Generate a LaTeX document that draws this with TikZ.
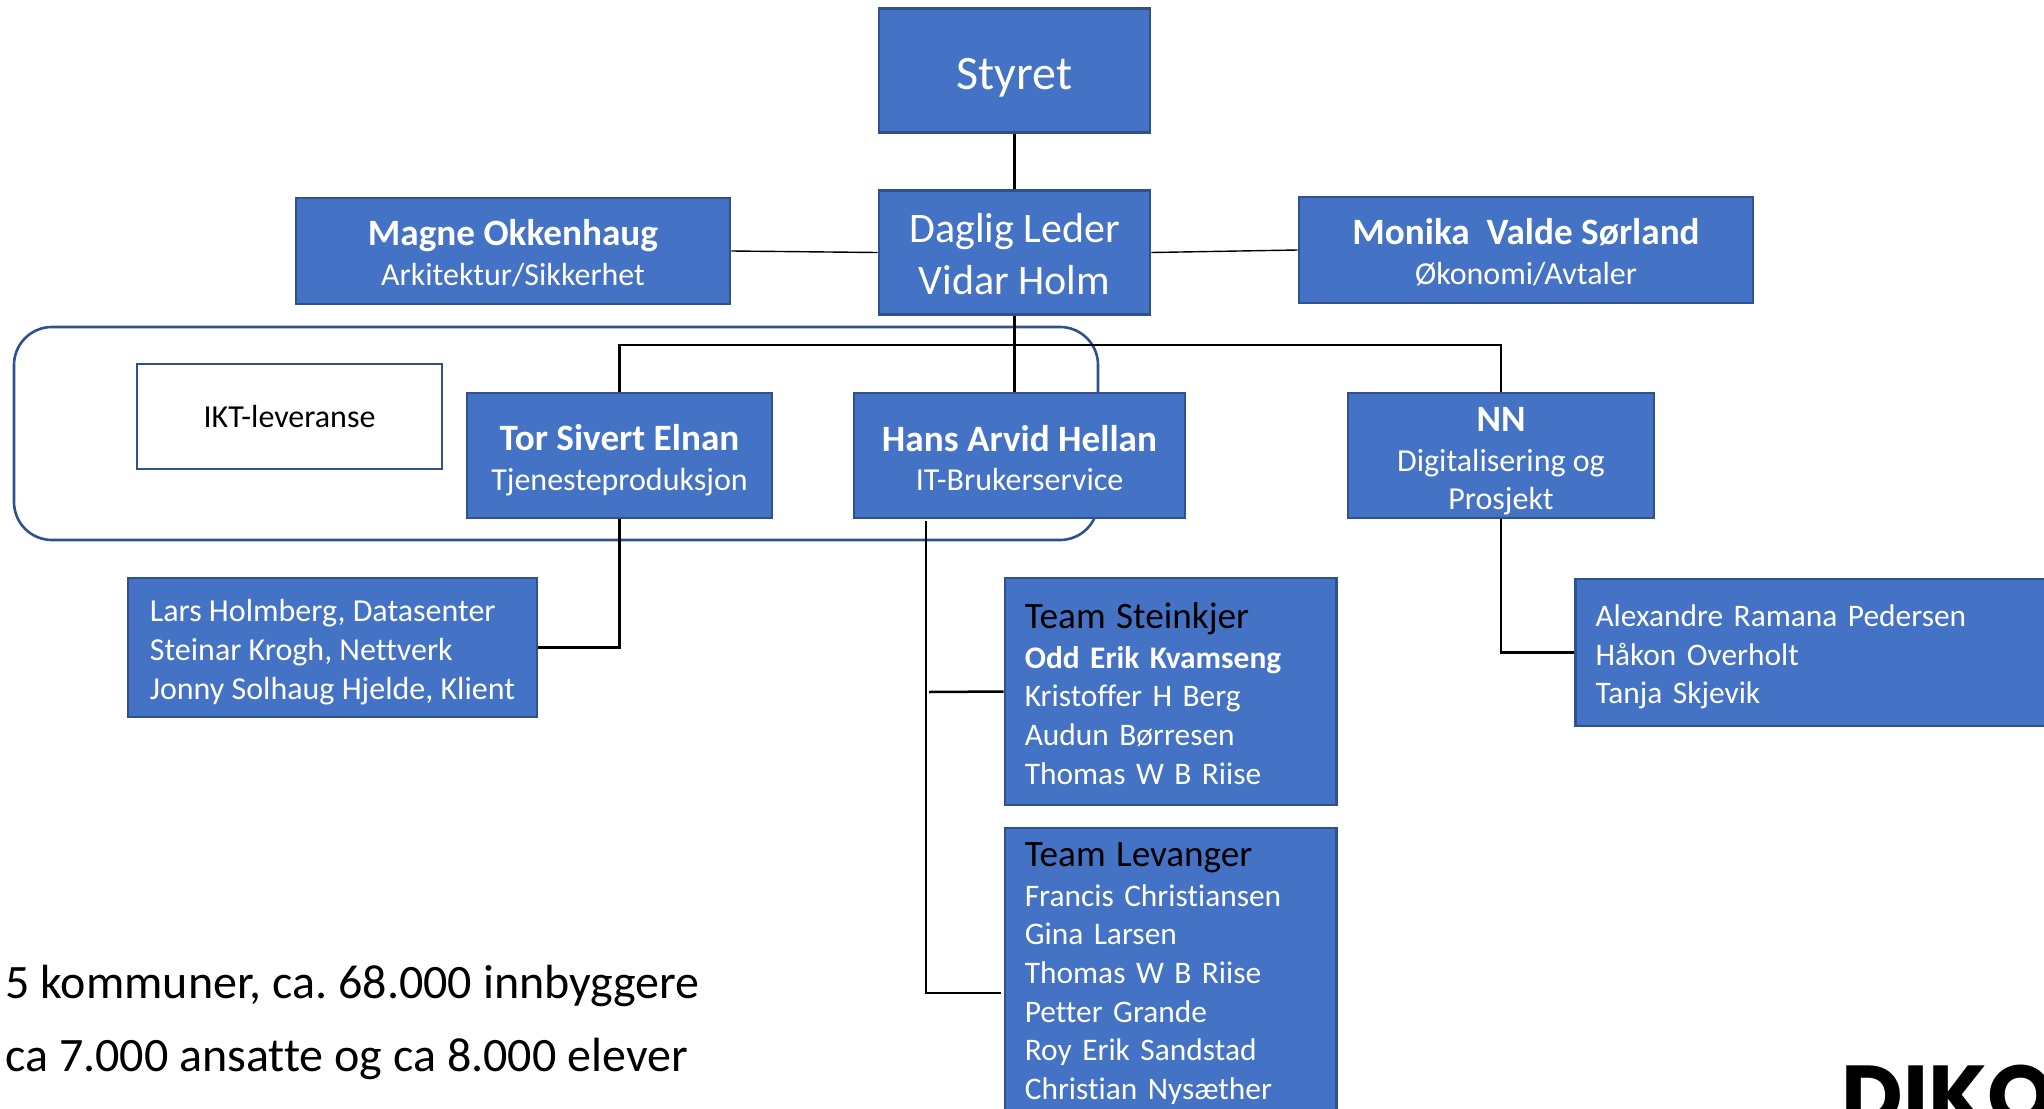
\documentclass[tikz,border=0pt]{standalone}
\usepackage{fontspec}
\setmainfont{Carlito}[Ligatures=NoCommon]
\newfontfamily\logofont{Poppins}
\usepackage{xcolor}
\definecolor{OrgBlue}{HTML}{4472C4}
\definecolor{OrgEdge}{HTML}{2F528F}
\newcommand{\fs}[1]{\fontsize{#1}{19.3}\selectfont}
\newcommand{\drop}[1]{\rule{0pt}{#1pt}}
\frenchspacing
\tikzset{
	orgbox/.style={draw=OrgEdge, fill=OrgBlue, line width=1.3, text=white, align=center, inner sep=0, font=\fs{16}},
	listbox/.style={orgbox, align=left, inner xsep=10, font=\fs{15.7}},
	orgline/.style={black, line width=1.25},
	thinline/.style={black, line width=0.7}
}

\begin{document}
\begin{tikzpicture}[x=0.5pt, y=-0.5pt]
		\clip (0,0) rectangle (2044,1108);
		
		% Frame
		\node[draw=OrgEdge, line width=1.3, rounded corners=19, minimum width=542, minimum height=106.5, inner sep=0] (frame) at (556,433.5) {};
		
		% Anchor points
		\coordinate (bar) at (1014,345);
		\coordinate (stem) at (926,521);
		\coordinate (branch) at (929,692);
		\coordinate (levpoint) at (1001,993);
		
		% Boxes
		\node[orgbox, minimum width=135.5, minimum height=62, font=\fs{24}] (styret) at (1014.5,70.5) {\drop{22.5}Styret};
		\node[orgbox, minimum width=135.5, minimum height=62, font=\fontsize{21}{26}\selectfont] (daglig) at (1014.5,252.5) {\drop{16}Daglig Leder\\Vidar Holm};
		\node[orgbox, minimum width=217, minimum height=53] (magne) at (513,251) {{\fs{18.6}\bfseries\drop{15}Magne Okkenhaug}\\[0.5pt]Arkitektur/Sikkerhet};
		\node[orgbox, minimum width=227, minimum height=53] (monika) at (1526,250) {{\fs{18.6}\bfseries\drop{15}Monika\ \ Valde Sørland}\\[0.5pt]Økonomi/Avtaler};
		\node[orgbox, fill=white, text=black, minimum width=152.5, minimum height=52.5] (ikt) at (289.5,416.5) {IKT-leveranse};
		\node[orgbox, minimum width=152.5, minimum height=62.5] (tor) at (619.5,455.5) {{\fs{18.6}\bfseries\drop{17.6}Tor Sivert Elnan}\\[0.5pt]Tjenesteproduksjon};
		\node[orgbox, minimum width=165.5, minimum height=62.5] (hans) at (1019.5,455.5) {{\fs{18.6}\bfseries\drop{15.5}Hans Arvid Hellan}\\[0.5pt]IT-Brukerservice};
		\node[orgbox, minimum width=153, minimum height=62.5] (nn) at (1501,455.5) {{\fs{18.6}\bfseries\drop{17.8}NN}\\[0.5pt]Digitalisering og\\Prosjekt};
		\node[listbox, font=\fs{16}, inner xsep=0, minimum width=204.5, minimum height=69.5] (lars) at (332.5,647.5) {\drop{15.7}Lars Holmberg, Datasenter\\Steinar Krogh, Nettverk\\Jonny Solhaug Hjelde, Klient};
		\node[listbox, text width=145.7, minimum height=113.5] (steinkjer) at (1170.5,691.5) {{\fs{18.6}\color{black}\drop{15}Team Steinkjer}\\[0.5pt]{\bfseries Odd Erik Kvamseng}\\Kristoffer H Berg\\Audun Børresen\\Thomas W B Riise};
		\node[listbox, anchor=north west, text width=145.7, inner ysep=7.5] (levanger) at (1003.5,826.5) {{\fs{18.6}\color{black}Team Levanger}\\[0.5pt]Francis Christiansen\\Gina Larsen\\Thomas W B Riise\\Petter Grande\\Roy Erik Sandstad\\Christian Nysæther\\\strut};
		\node[listbox, text width=222, minimum height=73.5] (alexandre) at (1817.5,652.5) {\drop{15.5}Alexandre Ramana Pedersen\\Håkon Overholt\\Tanja Skjevik};
		
		% Connectors
		\draw[orgline] (styret) -- (daglig);
		\draw[orgline] (daglig.south) -- (daglig.south |- hans.north);
		\draw[orgline] (tor.north) |- (bar) -| (nn.north);
		\draw[orgline] (tor.south) |- (lars.east);
		\draw[orgline] (nn.south) |- (alexandre.west);
		\draw[orgline] (stem) |- (levpoint);
		\draw[orgline] (branch) -- (steinkjer.west);
		\draw[thinline] (magne.east) -- (daglig.west);
		\draw[thinline] (daglig.east) -- (monika.west);
		
		% Footer
		\node[anchor=west, inner sep=0, font=\fontsize{24}{28}\selectfont] (kommuner) at (5,986) {5 kommuner, ca. 68.000 innbyggere};
		\node[anchor=west, inner sep=0, font=\fontsize{24}{28}\selectfont] (ansatte) at (5,1059) {ca 7.000 ansatte og ca 8.000 elever};
		\node[anchor=base west, inner sep=0, font=\logofont\bfseries\fontsize{42.5}{50}\selectfont] (logo) at (1841,1125) {DIKO};
	\end{tikzpicture}
\end{document}
